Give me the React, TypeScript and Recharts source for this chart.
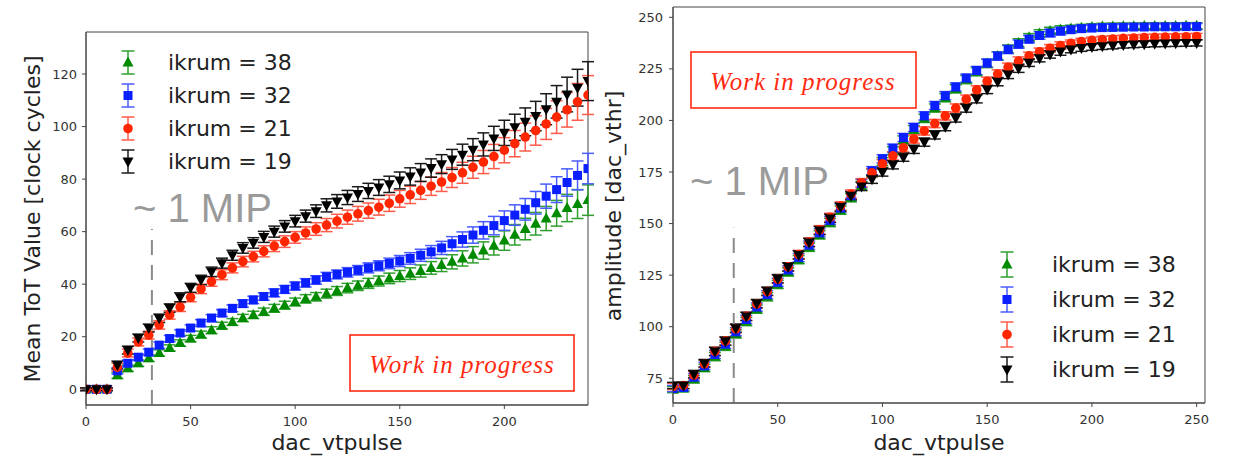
import React from "react";
import {
  ScatterChart,
  Scatter,
  XAxis,
  YAxis,
  ErrorBar,
  ReferenceLine,
  ReferenceArea,
  Legend,
  Label,
} from "recharts";

// left panel: mean ToT vs dac_vtpulse
const dacLeft = [
  0, 5, 10, 15, 20, 25, 30, 35, 40, 45, 50, 55, 60, 65, 70, 75, 80, 85, 90, 95, 100, 105, 110, 115, 120,
  125, 130, 135, 140, 145, 150, 155, 160, 165, 170, 175, 180, 185, 190, 195, 200, 205, 210, 215, 220, 225,
  230, 235, 240,
];
const totIkrum38 = [
  0, 0, 0, 5.3, 8, 9.9, 11.8, 13.8, 15.7, 17.6, 19.3, 20.8, 22.5, 24.2, 25.6, 27.1, 28.3, 29.5, 30.8, 32,
  33.2, 34.4, 35.2, 36.4, 37.4, 38.5, 39.4, 40.3, 41.2, 42.2, 43.1, 44, 45, 46.2, 47.3, 48.5, 49.8, 51.2,
  52.8, 54.6, 56.6, 58.8, 61, 63, 65, 67, 69, 70.5, 72,
];
const totIkrum32 = [
  0, 0, 0, 7, 9.9, 12.2, 14.1, 16.8, 19.3, 21.4, 23.3, 25.2, 27.1, 29, 30.8, 32.6, 34, 35.3, 36.7, 38,
  39.3, 40.5, 41.6, 42.8, 43.7, 44.5, 45.3, 46.2, 47, 47.9, 48.8, 49.8, 51, 52.3, 53.8, 55.4, 57, 58.7,
  60.5, 62.3, 64.2, 66.3, 68.5, 71, 73.5, 76, 78.7, 81.4, 84,
];
const totIkrum21 = [
  0, 0, 0, 8.4, 13.8, 18, 20.6, 24.5, 28.3, 31.3, 35, 38.2, 41, 43.6, 46.2, 48.6, 50.5, 52.5, 54.5, 56.2,
  57.8, 59.5, 61, 62.5, 64, 65.5, 66.8, 68, 69.3, 70.8, 72.5, 74, 75.7, 77.3, 78.9, 80.6, 82.4, 84.5, 86.5,
  88.6, 91, 93.5, 96, 98.5, 101, 103.6, 106.4, 109.4, 112,
];
const totIkrum19 = [
  0, 0, 0, 9.2, 14.9, 19.5, 23.3, 27, 30.9, 35, 38.6, 41.6, 44.7, 48, 51, 53.8, 55.7, 58, 60, 62, 64,
  65.9, 67.8, 70, 71.5, 73, 74.3, 75.5, 76.8, 78, 79.5, 81, 82.5, 84.2, 85.7, 87.5, 89.3, 91.2, 93.2, 95.5,
  97.6, 99.7, 101.8, 104, 106.6, 109.4, 112.2, 114.8, 117.3,
];
// errors: ikrum 21/19 share one set, ikrum 38/32 the other
const totErrHigh = [
  0.5, 0.5, 0.5, 1.5, 1.5, 1.5, 1.5, 1.6, 1.6, 1.7, 1.7, 1.8, 1.8, 1.9, 1.9, 2, 2, 2.1, 2.1, 2.2, 2.2, 2.3,
  2.4, 2.5, 2.6, 2.7, 2.8, 2.9, 3, 3.1, 3.2, 3.3, 3.4, 3.5, 3.6, 3.8, 4, 4.2, 4.4, 4.6, 4.8, 5, 5.3, 5.6,
  5.9, 6.2, 6.6, 7, 7.4,
];
const totErrLow = [
  0.5, 0.5, 0.5, 1.2, 1.2, 1.2, 1.2, 1.2, 1.2, 1.2, 1.2, 1.3, 1.3, 1.3, 1.3, 1.4, 1.4, 1.4, 1.5, 1.5, 1.5,
  1.6, 1.6, 1.7, 1.7, 1.8, 1.8, 1.9, 1.9, 2, 2.1, 2.2, 2.3, 2.4, 2.5, 2.7, 2.9, 3.1, 3.3, 3.5, 3.7, 3.9,
  4.1, 4.3, 4.6, 4.9, 5.2, 5.5, 5.8,
];

// right panel: amplitude vs dac_vtpulse
const dacRight = [
  0, 5, 10, 15, 20, 25, 30, 35, 40, 45, 50, 55, 60, 65, 70, 75, 80, 85, 90, 95, 100, 105, 110, 115, 120,
  125, 130, 135, 140, 145, 150, 155, 160, 165, 170, 175, 180, 185, 190, 195, 200, 205, 210, 215, 220, 225,
  230, 235, 240, 245, 250,
];
const ampIkrum38 = [
  69.5, 70, 74.5, 80, 85.5, 90.5, 96.5, 102.5, 108.5, 114.5, 120.5, 126.5, 132.5, 138.5, 144.5, 150.5,
  156.5, 162.5, 168.5, 174.5, 180, 185.3, 190.5, 195.5, 201, 206, 211, 215.3, 219.8, 223.6, 227.6, 231.3,
  234.6, 237.6, 240.3, 242.2, 243.4, 244.1, 244.6, 245, 245.3, 245.5, 245.6, 245.7, 245.7, 245.8, 245.8,
  245.8, 245.8, 245.9, 245.9,
];
const ampIkrum32 = [
  70, 70.5, 75.5, 81, 86.5, 91.5, 97.5, 103.5, 109.5, 115.5, 121.5, 127.5, 133.5, 139.5, 145.5, 151.5,
  157.5, 163.5, 169.5, 175.6, 181.4, 186.5, 191.7, 196.6, 202.2, 207.2, 212, 216.2, 220.5, 224.2, 227.8,
  231.2, 234.4, 237, 239.4, 241.2, 242.4, 243.3, 244, 244.5, 244.8, 245, 245.1, 245.2, 245.3, 245.3, 245.4,
  245.4, 245.4, 245.5, 245.5,
];
const ampIkrum21 = [
  71, 71.5, 76.5, 82, 88, 93, 99, 105, 111, 117, 123, 129, 135, 141, 147, 153, 158.5, 164.3, 169.8, 174.6,
  179, 182.8, 186.7, 191, 194.9, 198.5, 202.2, 206, 210.3, 214.8, 219, 222.5, 225.8, 228.8, 231.3, 233.3,
  235, 236.3, 237.4, 238.2, 238.8, 239.2, 239.5, 239.8, 240, 240.2, 240.3, 240.4, 240.5, 240.6, 240.7,
];
const ampIkrum19 = [
  71.5, 71.5, 77, 82.3, 88, 93, 99.3, 105, 111.2, 117.2, 123.3, 129, 134.8, 140.8, 146.6, 152.5, 158,
  163.5, 168, 171.5, 175, 178.5, 182.2, 186, 189.5, 193, 197, 201.2, 206, 210.5, 215, 218.8, 222.3, 225.3,
  228, 230.2, 232, 233.4, 234.4, 235.1, 235.6, 236, 236.3, 236.6, 236.8, 237, 237.2, 237.3, 237.4, 237.5,
  237.6,
];
const ampErr = [
  1.5, 1.5, 1.8, 1.8, 2, 2, 2, 2, 2, 2, 2, 2, 2, 2, 2, 2, 2, 2, 2, 2, 2, 2, 2, 2, 2, 2, 2, 2, 2, 2, 2, 2, 2,
  2, 1.8, 1.8, 1.8, 1.8, 1.6, 1.6, 1.6, 1.6, 1.6, 1.5, 1.5, 1.5, 1.5, 1.5, 1.5, 1.5, 1.5,
];

const ikrumLabels = ["ikrum = 38", "ikrum = 32", "ikrum = 21", "ikrum = 19"];

type Kind = "up" | "square" | "circle" | "down";
const styles: { color: string; bar: string; kind: Kind }[] = [
  { color: "#008a00", bar: "#2f9f2f", kind: "up" },
  { color: "#0a1fff", bar: "#4a5cff", kind: "square" },
  { color: "#ff2600", bar: "#ff5a4a", kind: "circle" },
  { color: "#000000", bar: "#1a1a1a", kind: "down" },
];

const FONT = "DejaVu Sans";
const AXIS = "#444";

type Pt = { x: number; y: number; err: number };
const toPoints = (xs: number[], ys: number[], errs: number[]): Pt[] =>
  xs.map((x, i) => ({ x, y: ys[i], err: errs[i] }));

const totSeries = [
  toPoints(dacLeft, totIkrum38, totErrLow),
  toPoints(dacLeft, totIkrum32, totErrLow),
  toPoints(dacLeft, totIkrum21, totErrHigh),
  toPoints(dacLeft, totIkrum19, totErrHigh),
];
const ampSeries = [
  toPoints(dacRight, ampIkrum38, ampErr),
  toPoints(dacRight, ampIkrum32, ampErr),
  toPoints(dacRight, ampIkrum21, ampErr),
  toPoints(dacRight, ampIkrum19, ampErr),
];

function marker(kind: Kind, cx: number, cy: number, color: string) {
  if (kind === "up") return <path d={`M${cx},${cy - 6}L${cx + 5.5},${cy + 4}L${cx - 5.5},${cy + 4}Z`} fill={color} />;
  if (kind === "down") return <path d={`M${cx},${cy + 6}L${cx + 5.5},${cy - 4}L${cx - 5.5},${cy - 4}Z`} fill={color} />;
  if (kind === "square") return <rect x={cx - 4.5} y={cy - 4.5} width={9} height={9} fill={color} />;
  return <circle cx={cx} cy={cy} r={4.8} fill={color} />;
}

function LegendRows({ rowH, gap, half }: { rowH: number; gap: number; half: number }) {
  return (
    <div style={{ fontFamily: FONT, fontSize: 22, color: "#222" }}>
      {styles.map((s, i) => (
        <div key={i} style={{ display: "flex", alignItems: "center", height: rowH }}>
          <svg width={30} height={rowH}>
            <g stroke={s.bar} strokeWidth={1.5}>
              <line x1={15} x2={15} y1={rowH / 2 - half} y2={rowH / 2 + half} />
              <line x1={8.5} x2={21.5} y1={rowH / 2 - half} y2={rowH / 2 - half} />
              <line x1={8.5} x2={21.5} y1={rowH / 2 + half} y2={rowH / 2 + half} />
            </g>
            {marker(s.kind, 15, rowH / 2, s.color)}
          </svg>
          <span style={{ marginLeft: gap, whiteSpace: "nowrap" }}>{ikrumLabels[i]}</span>
        </div>
      ))}
    </div>
  );
}

const tickStyle = { fill: "#333", fontSize: 13, fontFamily: FONT };

function TotChart() {
  return (
    <ScatterChart width={600} height={457} margin={{ top: 32, right: 12, bottom: 0, left: 0 }}>
      <XAxis
        type="number"
        dataKey="x"
        domain={[0, 240]}
        allowDataOverflow
        ticks={[0, 50, 100, 150, 200]}
        height={52}
        tick={tickStyle}
        tickSize={4}
        tickMargin={8}
        tickLine={{ stroke: AXIS }}
        axisLine={{ stroke: AXIS }}
      >
        <Label
          content={() => (
            <text x={337} y={450} textAnchor="middle" fontFamily={FONT} fontSize={22} fill="#222">
              dac_vtpulse
            </text>
          )}
        />
      </XAxis>
      <YAxis
        type="number"
        dataKey="y"
        domain={[-6, 136]}
        allowDataOverflow
        ticks={[0, 20, 40, 60, 80, 100, 120]}
        width={86}
        tick={tickStyle}
        tickSize={4}
        tickMargin={5}
        tickLine={{ stroke: AXIS }}
        axisLine={{ stroke: AXIS }}
      >
        <Label
          content={() => (
            <text
              x={40}
              y={219}
              transform="rotate(-90, 40, 219)"
              textAnchor="middle"
              fontFamily={FONT}
              fontSize={22}
              fill="#222"
            >
              Mean ToT Value [clock cycles]
            </text>
          )}
        />
      </YAxis>
      <ReferenceArea x1={0} x2={240} y1={-6} y2={136} fill="none" stroke={AXIS} strokeWidth={1} />
      {totSeries.map((pts, i) => (
        <Scatter
          key={i}
          name={ikrumLabels[i]}
          data={pts}
          isAnimationActive={false}
          shape={(p: any) => marker(styles[i].kind, p.cx, p.cy, styles[i].color)}
        >
          <ErrorBar
            dataKey="err"
            direction="y"
            width={6}
            stroke={styles[i].bar}
            strokeWidth={1.5}
            isAnimationActive={false}
          />
        </Scatter>
      ))}
      <ReferenceLine
        segment={[
          { x: 31.5, y: -6 },
          { x: 31.5, y: 61 },
        ]}
        stroke="#8a8a8a"
        strokeWidth={2}
        strokeDasharray="15 10"
      />
      <Legend
        layout="vertical"
        align="center"
        verticalAlign="middle"
        wrapperStyle={{ left: 113, top: 46, width: 240 }}
        content={() => <LegendRows rowH={33} gap={25} half={11.5} />}
      />
    </ScatterChart>
  );
}

function AmpChart() {
  return (
    <ScatterChart width={633} height={457} margin={{ top: 7, right: 28, bottom: 0, left: 0 }}>
      <XAxis
        type="number"
        dataKey="x"
        domain={[0, 254]}
        allowDataOverflow
        ticks={[0, 50, 100, 150, 200, 250]}
        height={54}
        tick={tickStyle}
        tickSize={4}
        tickMargin={8}
        tickLine={{ stroke: AXIS }}
        axisLine={{ stroke: AXIS }}
      >
        <Label
          content={() => (
            <text x={339} y={450} textAnchor="middle" fontFamily={FONT} fontSize={22} fill="#222">
              dac_vtpulse
            </text>
          )}
        />
      </XAxis>
      <YAxis
        type="number"
        dataKey="y"
        domain={[63, 255]}
        allowDataOverflow
        ticks={[75, 100, 125, 150, 175, 200, 225, 250]}
        width={73}
        tick={tickStyle}
        tickSize={4}
        tickMargin={6}
        tickLine={{ stroke: AXIS }}
        axisLine={{ stroke: AXIS }}
      >
        <Label
          content={() => (
            <text
              x={21}
              y={206}
              transform="rotate(-90, 21, 206)"
              textAnchor="middle"
              fontFamily={FONT}
              fontSize={22}
              fill="#222"
            >
              amplitude [dac_vthr]
            </text>
          )}
        />
      </YAxis>
      <ReferenceArea x1={0} x2={254} y1={63} y2={255} fill="none" stroke={AXIS} strokeWidth={1} />
      {ampSeries.map((pts, i) => (
        <Scatter
          key={i}
          name={ikrumLabels[i]}
          data={pts}
          isAnimationActive={false}
          shape={(p: any) => marker(styles[i].kind, p.cx, p.cy, styles[i].color)}
        >
          <ErrorBar
            dataKey="err"
            direction="y"
            width={6}
            stroke={styles[i].bar}
            strokeWidth={1.5}
            isAnimationActive={false}
          />
        </Scatter>
      ))}
      <ReferenceLine
        segment={[
          { x: 29, y: 63 },
          { x: 29, y: 148 },
        ]}
        stroke="#8a8a8a"
        strokeWidth={2}
        strokeDasharray="15 10"
      />
      <Legend
        layout="vertical"
        align="center"
        verticalAlign="middle"
        wrapperStyle={{ left: 392, top: 247, width: 220 }}
        content={() => <LegendRows rowH={35} gap={30} half={12.5} />}
      />
    </ScatterChart>
  );
}

export default function App() {
  return (
    <div
      style={{
        position: "absolute",
        left: 0,
        top: 0,
        width: 1233,
        height: 457,
        background: "#fff",
        overflow: "hidden",
      }}
    >
      <div style={{ position: "absolute", left: 0, top: 0 }}>
        <TotChart />
      </div>
      <div style={{ position: "absolute", left: 600, top: 0 }}>
        <AmpChart />
      </div>
      {/* slide annotations drawn over the plots */}
      <svg
        width={1233}
        height={457}
        style={{ position: "absolute", left: 0, top: 0, pointerEvents: "none" }}
      >
        <text x={133} y={222} fontFamily="Liberation Sans" fontSize={40} fill="#9a9a9a">
          ~ 1 MIP
        </text>
        <text x={690} y={195} fontFamily="Liberation Sans" fontSize={40} fill="#9a9a9a">
          ~ 1 MIP
        </text>
        <rect x={350} y={335} width={224} height={56} fill="#fff" stroke="#ff2a10" strokeWidth={1.6} />
        <text
          x={462}
          y={364}
          textAnchor="middle"
          dominantBaseline="central"
          fontFamily="Liberation Serif"
          fontStyle="italic"
          fontSize={25}
          letterSpacing={1}
          fill="#ff2a10"
        >
          Work in progress
        </text>
        <rect x={691} y={52} width={225} height={56} fill="#fff" stroke="#ff2a10" strokeWidth={1.6} />
        <text
          x={803}
          y={81}
          textAnchor="middle"
          dominantBaseline="central"
          fontFamily="Liberation Serif"
          fontStyle="italic"
          fontSize={25}
          letterSpacing={1}
          fill="#ff2a10"
        >
          Work in progress
        </text>
      </svg>
    </div>
  );
}
